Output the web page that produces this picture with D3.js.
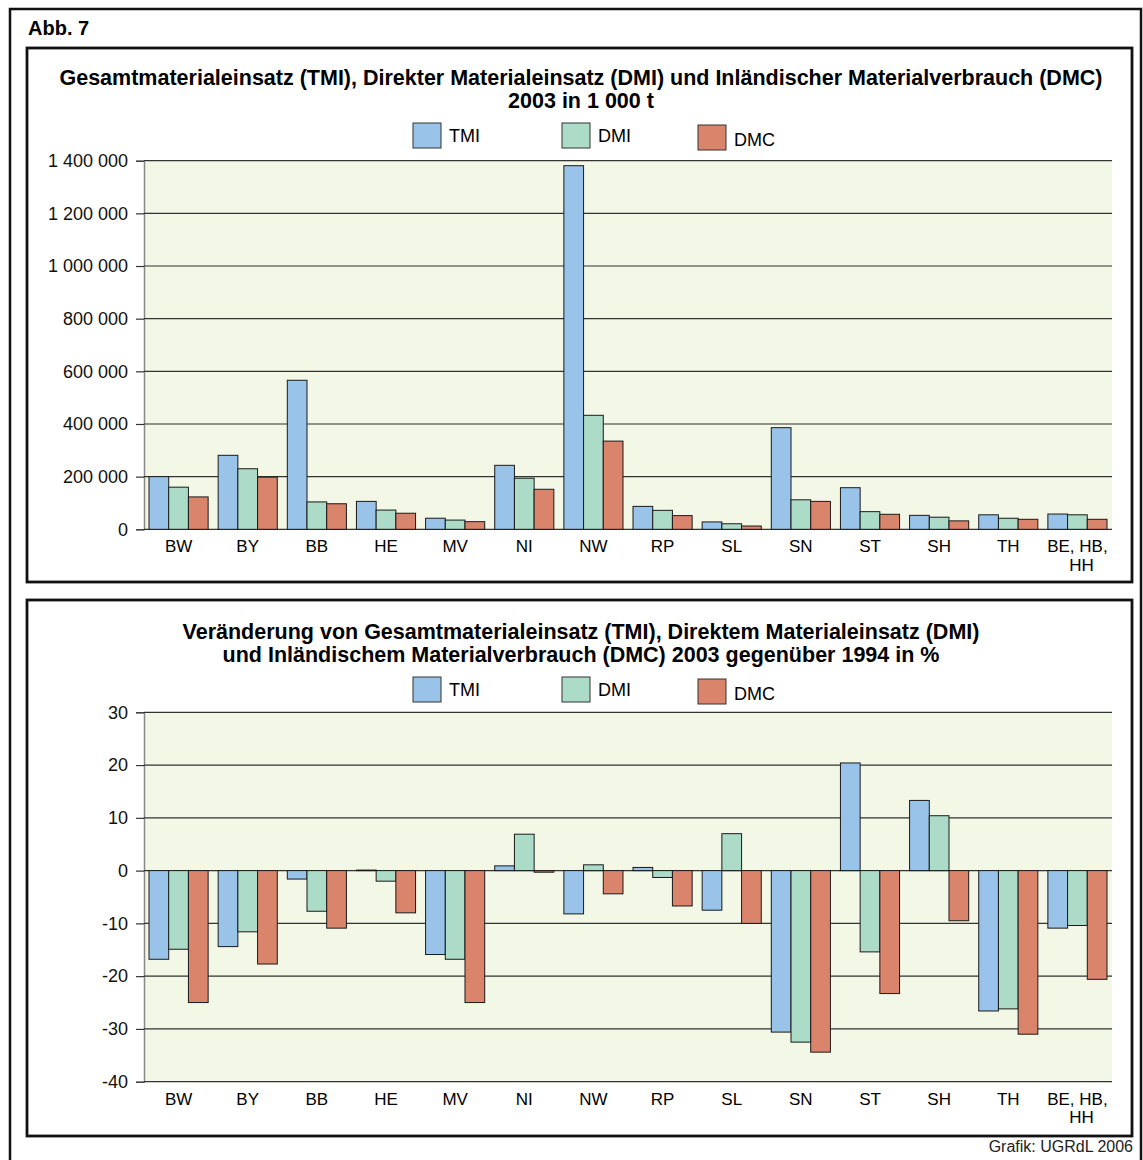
<!DOCTYPE html>
<html>
<head>
<meta charset="utf-8">
<script src="https://cdn.jsdelivr.net/npm/d3@7"></script>
<style>
  body { margin: 0; background: #fff; }
  svg { display: block; font-family: 'Liberation Sans', Arial, sans-serif; }
</style>
</head>
<body>
<div id="graphics"></div>
<script>
// categories (Bundeslaender)
const categories = ['BW', 'BY', 'BB', 'HE', 'MV', 'NI', 'NW', 'RP', 'SL', 'SN', 'ST', 'SH', 'TH', 'BE, HB, HH'];
const seriesNames = ['TMI', 'DMI', 'DMC'];

// 2003 in 1 000 t
const tmi2003 = [200000, 281000, 566000, 106000, 42000, 243000, 1381000, 87000, 28000, 386000, 158000, 53000, 55000, 58000];
const dmi2003 = [160000, 230000, 104000, 73000, 35000, 194000, 433000, 72000, 21000, 112000, 67000, 46000, 42000, 55000];
const dmc2003 = [123000, 198000, 97000, 61000, 29000, 152000, 335000, 52000, 12500, 106000, 57000, 32000, 38000, 38000];

// change 2003 vs 1994 in %
const tmiChange = [-16.8, -14.4, -1.6, 0.1, -15.9, 0.9, -8.2, 0.6, -7.5, -30.6, 20.4, 13.3, -26.6, -10.9];
const dmiChange = [-14.9, -11.6, -7.7, -2.0, -16.8, 6.9, 1.1, -1.3, 7.0, -32.5, -15.4, 10.4, -26.2, -10.4];
const dmcChange = [-25.0, -17.7, -10.9, -8.0, -25.0, -0.3, -4.4, -6.7, -10.0, -34.4, -23.3, -9.5, -31.0, -20.6];

const topTicks = [0, 200000, 400000, 600000, 800000, 1000000, 1200000, 1400000];
const bottomTicks = [-40, -30, -20, -10, 0, 10, 20, 30];

const colors = { TMI: '#9ac3ea', DMI: '#acdcc8', DMC: '#db846c' };

const locale = d3.formatLocale({ decimal: ',', thousands: ' ', grouping: [3], currency: ['', ''], minus: '-' });
const fmt = locale.format(',');

const W = 1143, H = 1160;
const svg = d3.select('#graphics').append('svg').attr('width', W).attr('height', H);

// outer frame
svg.append('rect')
  .attr('x', 10).attr('y', 9).attr('width', 1131).attr('height', 1160)
  .attr('fill', 'none').attr('stroke', '#111').attr('stroke-width', 2.5);

svg.append('text').text('Abb. 7')
  .attr('x', 28).attr('y', 35)
  .attr('font-size', 20).attr('font-weight', 'bold');

svg.append('text').text('Grafik: UGRdL 2006')
  .attr('x', 1133).attr('y', 1152)
  .attr('text-anchor', 'end').attr('font-size', 16).attr('fill', '#222');

function drawPanel(opts) {
  const g = svg.append('g');

  g.append('rect')
    .attr('x', 27).attr('y', opts.top).attr('width', 1105).attr('height', opts.height)
    .attr('fill', '#fff').attr('stroke', '#111').attr('stroke-width', 2.8);

  opts.title.forEach((t, i) => {
    g.append('text').text(t)
      .attr('x', 581).attr('y', opts.titleY + i * 23)
      .attr('text-anchor', 'middle')
      .attr('font-size', 21.5).attr('font-weight', 'bold');
  });

  // legend
  const legendX = [413, 562, 698];
  seriesNames.forEach((s, i) => {
    const dy = i === 2 ? 2 : 0;
    g.append('rect')
      .attr('x', legendX[i]).attr('y', opts.legendY + dy)
      .attr('width', 28).attr('height', 25)
      .attr('fill', colors[s]).attr('stroke', '#333').attr('stroke-width', 1);
    g.append('text').text(s)
      .attr('x', legendX[i] + 36).attr('y', opts.legendY + 19 + dy * 2)
      .attr('font-size', 18);
  });

  const x0 = d3.scaleBand().domain(categories).range([144, 1112]).paddingInner(0.145).paddingOuter(0.0725);
  const x1 = d3.scaleBand().domain(seriesNames).range([0, x0.bandwidth()]);
  const y = d3.scaleLinear().domain(opts.domain).range([opts.plotBottom, opts.plotTop]);

  g.append('rect')
    .attr('x', 144).attr('y', opts.plotTop)
    .attr('width', 1112 - 144).attr('height', opts.plotBottom - opts.plotTop)
    .attr('fill', '#f3f7e6');

  // gridlines + y axis
  const yAxis = d3.axisLeft(y).tickValues(opts.ticks).tickSize(8).tickPadding(8).tickFormat(fmt);
  const ya = g.append('g').attr('transform', 'translate(144,0)').call(yAxis);
  ya.select('.domain').attr('stroke', '#888').attr('stroke-width', 1.5);
  ya.selectAll('.tick line').attr('stroke', '#333').attr('stroke-width', 1.2);
  ya.selectAll('.tick text')
    .attr('font-size', 18).attr('font-family', "'Liberation Sans', Arial, sans-serif").attr('fill', '#111');

  g.append('g').selectAll('line')
    .data(opts.ticks)
    .join('line')
    .attr('x1', 144).attr('x2', 1112)
    .attr('y1', (d) => y(d)).attr('y2', (d) => y(d))
    .attr('stroke', '#333').attr('stroke-width', 1.2);

  // bars
  const groups = g.append('g').selectAll('g')
    .data(categories)
    .join('g')
    .attr('transform', (d) => 'translate(' + x0(d) + ',0)');

  groups.selectAll('rect')
    .data((d, i) => seriesNames.map((s, j) => ({ key: s, value: opts.values[j][i] })))
    .join('rect')
    .attr('x', (d) => x1(d.key))
    .attr('width', x1.bandwidth())
    .attr('y', (d) => y(Math.max(0, d.value)))
    .attr('height', (d) => Math.abs(y(d.value) - y(0)))
    .attr('fill', (d) => colors[d.key])
    .attr('stroke', '#1a1a1a').attr('stroke-width', 1);

  // category labels (long one wrapped onto two lines)
  const labels = g.append('g').selectAll('text')
    .data(categories)
    .join('text')
    .attr('y', opts.plotBottom + 23)
    .attr('text-anchor', 'middle')
    .attr('font-size', 17);
  labels.each(function (d) {
    const lines = d.length > 6 ? [d.slice(0, 7), d.slice(8)] : [d];
    lines.forEach((l, i) => {
      d3.select(this).append('tspan')
        .attr('x', x0(d) + x0.bandwidth() / 2 + (i === 0 ? 0 : 4))
        .attr('dy', i === 0 ? 0 : 18.5)
        .text(l);
    });
  });
}

drawPanel({
  top: 48, height: 534,
  title: ['Gesamtmaterialeinsatz (TMI), Direkter Materialeinsatz (DMI) und Inländischer Materialverbrauch (DMC)', '2003 in 1 000 t'],
  titleY: 85, legendY: 123,
  plotTop: 160.7, plotBottom: 529.3,
  domain: [0, 1400000], ticks: topTicks,
  values: [tmi2003, dmi2003, dmc2003]
});

drawPanel({
  top: 600, height: 536,
  title: ['Veränderung von Gesamtmaterialeinsatz (TMI), Direktem Materialeinsatz (DMI)', 'und Inländischem Materialverbrauch (DMC) 2003 gegenüber 1994 in %'],
  titleY: 639, legendY: 677,
  plotTop: 712.3, plotBottom: 1081.7,
  domain: [-40, 30], ticks: bottomTicks,
  values: [tmiChange, dmiChange, dmcChange]
});
</script>
</body>
</html>
